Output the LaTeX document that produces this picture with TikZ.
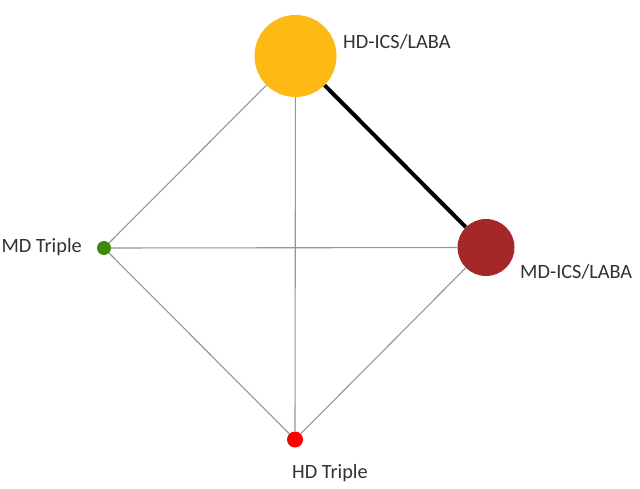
\documentclass[tikz,border=0pt]{standalone}
\usepackage{fontspec}
\setmainfont{Carlito}
\definecolor{cyellow}{RGB}{255,185,20}
\definecolor{cdarkred}{RGB}{165,40,40}
\definecolor{cgreen}{RGB}{60,140,10}
\definecolor{cred}{RGB}{255,0,0}
\definecolor{cedge}{RGB}{150,150,150}
\definecolor{ctext}{RGB}{50,50,50}
\begin{document}
\begin{tikzpicture}[x=1pt,y=-1pt,
  trt/.style={circle,inner sep=0pt,draw=none},
  lbl/.style={font=\fontsize{20.3}{24}\selectfont,text=ctext,inner sep=0pt},
  thin edge/.style={draw=cedge,line width=1.1pt},
  thick edge/.style={draw=black,line width=4pt}]
\useasboundingbox (0,0) rectangle (640,489);
\fill[white] (0,0) rectangle (640,489);
\node[trt,fill=cyellow,minimum size=82pt] (A) at (295.5,56) {};
\node[trt,fill=cdarkred,minimum size=57pt] (B) at (486,247.5) {};
\node[trt,fill=cgreen,minimum size=14pt] (C) at (104,248) {};
\node[trt,fill=cred,minimum size=16pt] (D) at (295,439.5) {};
\draw[thin edge] (A) -- (C);
\draw[thin edge] (A) -- (D);
\draw[thin edge] (C) -- (B);
\draw[thin edge] (C) -- (D);
\draw[thin edge] (D) -- (B);
\draw[thick edge] (A) -- (B);
\node[lbl,anchor=base west] (lA) at (343,49) {HD-ICS/LABA};
\node[lbl,anchor=base west] (lB) at (520,279) {MD-ICS/LABA};
\node[lbl,anchor=base east] (lC) at (82,252) {MD Triple};
\node[lbl,anchor=base west] (lD) at (292,478) {HD Triple};
\end{tikzpicture}
\end{document}
